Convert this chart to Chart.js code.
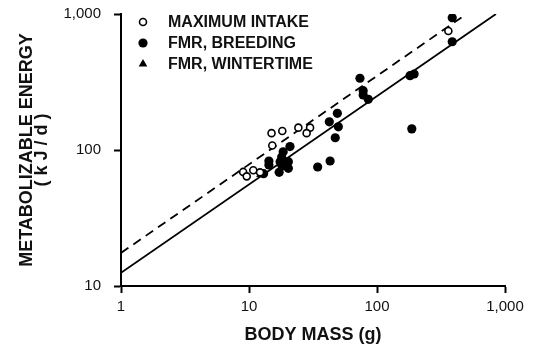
<!DOCTYPE html>
<html>
<head>
<meta charset="utf-8">
<script src="https://cdn.jsdelivr.net/npm/chart.js@4.4.1/dist/chart.umd.min.js"></script>
<style>
  html, body { margin: 0; padding: 0; background: #fff; }
</style>
</head>
<body>
<canvas id="grafico" width="533" height="348"></canvas>
<script>
// dados (massa corporal em g, energia em kJ/d)
const consumoMaximo = [
  [9.0, 69], [9.6, 64], [10.8, 71], [12.2, 68.5], [15.2, 108], [15.0, 133],
  [18.2, 138], [24.3, 146], [30, 146], [28.2, 133], [361, 750]
];
const fmrReproducao = [
  [387, 940], [387, 625], [181, 352], [195, 362], [187, 143], [73.6, 337],
  [78, 273], [78, 254], [85.5, 236], [49, 186], [42.4, 161], [49.9, 148],
  [47.2, 123], [43, 83], [34.4, 75], [20.9, 106], [18.5, 97], [18, 89],
  [14.3, 83], [14.3, 77.6], [17.5, 82], [18, 77.6], [20.3, 82], [20.3, 73.3],
  [17.2, 68.5], [13, 67]
];
const fmrInverno = [[12.3, 66], [19.5, 74]];

// retas de regressão (pontos extremos)
const retaFmr = [[1, 12.5], [850, 1000]];
const retaMaximo = [[1, 17.5], [500, 1000]];

const ticksX = [1, 10, 100, 1000];
const ticksY = [10, 100, 1000];

const nomes = ["MAXIMUM INTAKE", "FMR, BREEDING", "FMR, WINTERTIME"];

const paraPontos = arr => arr.map(p => ({ x: p[0], y: p[1] }));

Chart.defaults.font.family = '"Liberation Sans", Arial, sans-serif';
Chart.defaults.color = "#111";

// legenda desenhada dentro da área do gráfico
const legendaInterna = {
  id: "legendaInterna",
  afterDatasetsDraw(chart) {
    const { ctx, chartArea } = chart;
    ctx.save();
    ctx.font = 'bold 16px "Liberation Sans", Arial, sans-serif';
    ctx.textBaseline = "middle";
    nomes.forEach((nome, i) => {
      const ds = chart.data.datasets[i];
      const y = chartArea.top + 8 + i * 21;
      ctx.fillStyle = ds.backgroundColor;
      ctx.strokeStyle = ds.borderColor;
      ctx.lineWidth = ds.borderWidth;
      Chart.helpers.drawPoint(ctx, {
        pointStyle: ds.pointStyle,
        radius: ds.pointRadius,
        borderWidth: ds.borderWidth
      }, chartArea.left + 22, y);
      ctx.fillStyle = "#111";
      ctx.fillText(nome, chartArea.left + 47, y + 1);
    });
    ctx.restore();
  }
};

// tira o espaço extra que o Chart.js reserva para os rótulos das pontas
const semSobra = s => {
  s.paddingTop = 0; s.paddingBottom = 0;
  s.paddingLeft = 0; s.paddingRight = 0;
};

const canvas = document.getElementById("grafico");

let grafico = new Chart(canvas, {
  type: "scatter",
  data: {
    datasets: [
      {
        label: nomes[0],
        data: paraPontos(consumoMaximo),
        pointStyle: "circle",
        pointRadius: 3.5,
        borderWidth: 1.6,
        borderColor: "#000",
        backgroundColor: "#fff"
      },
      {
        label: nomes[1],
        data: paraPontos(fmrReproducao),
        pointStyle: "circle",
        pointRadius: 4.6,
        borderWidth: 0,
        borderColor: "#000",
        backgroundColor: "#000"
      },
      {
        label: nomes[2],
        data: paraPontos(fmrInverno),
        pointStyle: "triangle",
        pointRadius: 5,
        borderWidth: 0,
        borderColor: "#000",
        backgroundColor: "#000"
      },
      {
        label: "reta FMR",
        data: paraPontos(retaFmr),
        showLine: true,
        pointRadius: 0,
        borderColor: "#000",
        borderWidth: 1.8
      },
      {
        label: "reta consumo",
        data: paraPontos(retaMaximo),
        showLine: true,
        pointRadius: 0,
        borderColor: "#000",
        borderWidth: 1.8,
        borderDash: [9, 6]
      }
    ]
  },
  options: {
    responsive: false,
    animation: false,
    layout: { padding: { left: 0, right: 28, top: 14, bottom: 0 } },
    plugins: {
      legend: { display: false },
      tooltip: { enabled: false }
    },
    scales: {
      x: {
        type: "logarithmic",
        min: 1,
        max: 1000,
        afterBuildTicks: s => { s.ticks = ticksX.map(v => ({ value: v })); },
        afterFit: s => { s.height = 62; semSobra(s); },
        border: { display: true, color: "#000", width: 2 },
        grid: { drawOnChartArea: false, drawTicks: true, tickLength: 7, tickColor: "#000", tickWidth: 2 },
        ticks: {
          font: { size: 15 },
          padding: 5,
          maxRotation: 0,
          callback: v => v.toLocaleString("en-US")
        },
        title: {
          display: true,
          text: "BODY MASS (g)",
          font: { size: 18, weight: "bold" },
          padding: { top: 0, bottom: 2 }
        }
      },
      y: {
        type: "logarithmic",
        min: 10,
        max: 1000,
        afterBuildTicks: s => { s.ticks = ticksY.map(v => ({ value: v })); },
        afterFit: s => { s.width = 121; semSobra(s); },
        border: { display: true, color: "#000", width: 2 },
        grid: { drawOnChartArea: false, drawTicks: true, tickLength: 7, tickColor: "#000", tickWidth: 2 },
        ticks: {
          font: { size: 15 },
          padding: 13,
          callback: v => v.toLocaleString("en-US")
        },
        title: {
          display: true,
          text: ["METABOLIZABLE ENERGY", "( k J / d )"],
          font: { size: 18, weight: "bold", lineHeight: 0.85 },
          padding: { top: 19, bottom: 0 }
        }
      }
    }
  },
  plugins: [legendaInterna]
});
</script>
</body>
</html>
